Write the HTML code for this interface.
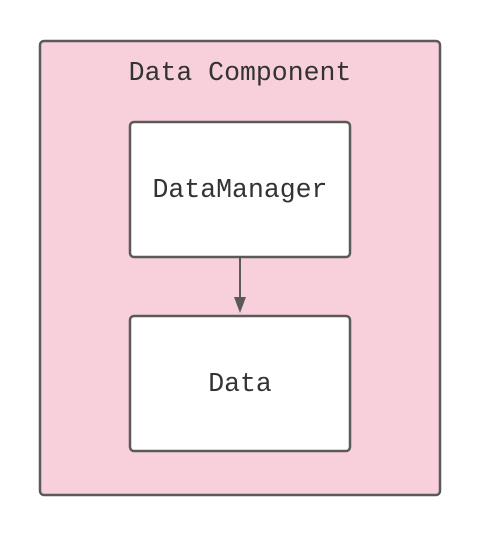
<!DOCTYPE html>
<html><head><style>
html,body{margin:0;padding:0;background:#fff;width:480px;height:535px;overflow:hidden}
</style></head><body>
<svg width="480" height="535" xmlns="http://www.w3.org/2000/svg" font-family="Liberation Mono, monospace" font-size="26.5" fill="#333">
<rect x="40" y="41" width="400" height="454" rx="4" fill="#f8d0dc" stroke="#5a5a5a" stroke-width="2.5"/>
<text x="240" y="80" text-anchor="middle" fill="#333">Data Component</text>
<rect x="130" y="122" width="220" height="135" rx="4" fill="#fff" stroke="#5a5a5a" stroke-width="2.5"/>
<text x="240" y="197" text-anchor="middle">DataManager</text>
<rect x="130" y="316" width="220" height="135" rx="4" fill="#fff" stroke="#5a5a5a" stroke-width="2.5"/>
<text x="240" y="391" text-anchor="middle">Data</text>
<line x1="240" y1="258" x2="240" y2="300" stroke="#5a5a5a" stroke-width="2"/>
<polygon points="234,297 246,297 240,313" fill="#5a5a5a"/>
</svg>
</body></html>
